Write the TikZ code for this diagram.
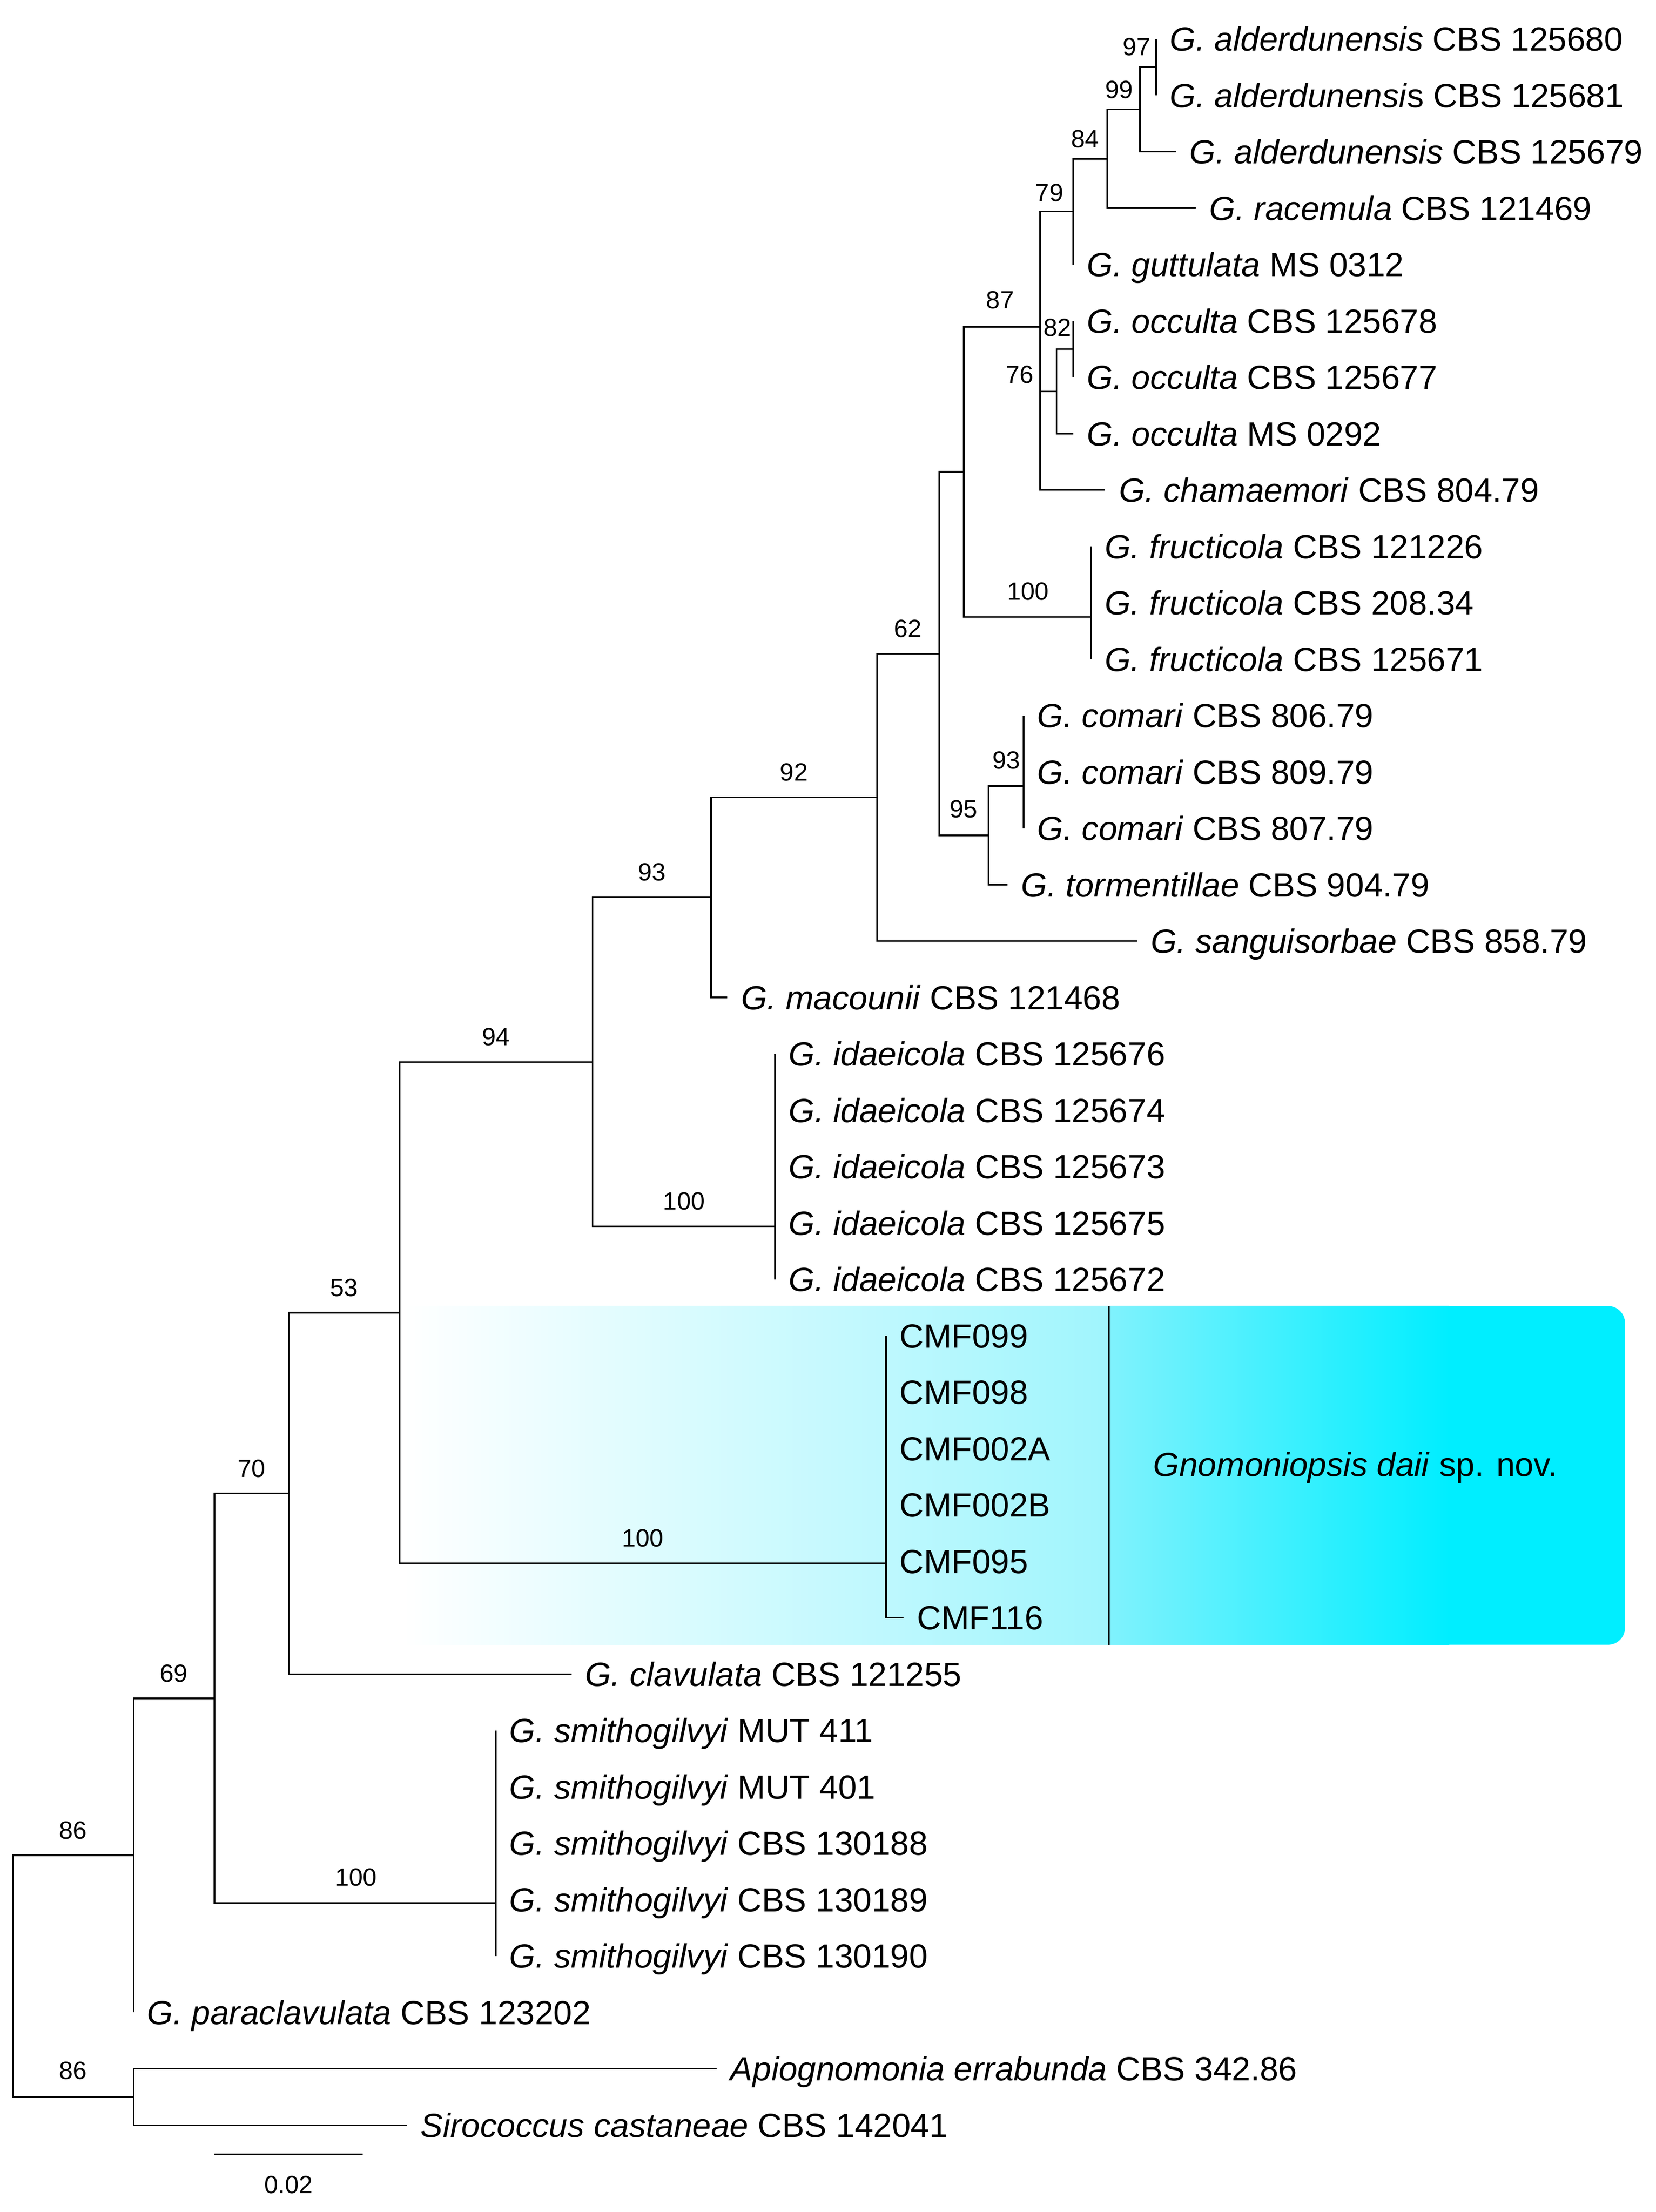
\documentclass[tikz,border=0pt]{standalone}
\usepackage{amsmath,amssymb}
\usepackage{fontspec}
\setmainfont{Liberation Sans}
\usepackage{tikz}
\usetikzlibrary{calc}
\definecolor{cyanclair}{HTML}{A0F5FD}
\definecolor{cyanmoyen}{HTML}{80F2FD}
\definecolor{cyanvif}{HTML}{00EEFF}

\begin{document}
\begin{tikzpicture}[x=0.5pt, y=-0.5pt,
    branche/.style={line width=0.55pt},
    taxon/.style={anchor=west, inner xsep=4.6pt, inner ysep=0pt, text height=8.5pt, text depth=0pt, font=\fontsize{11.85}{14}\selectfont},
    boot/.style={inner sep=0pt, text height=6.3pt, text depth=0pt, font=\fontsize{8.8}{10}\selectfont}]
    \useasboundingbox (0,0) rectangle (1170,1563);
    % Fond du clade G. daii
    \fill[cyanvif, rounded corners=6pt] (1000,922.8) rectangle (1148.2,1162.2);
    \shade[left color=white, right color=cyanclair] (285,922.8) rectangle (783.6,1162.2);
    \shade[left color=cyanmoyen, right color=cyanvif] (783.6,922.8) rectangle (1024,1162.2);
    \draw[branche] (783.6,922.8) -- (783.6,1162.2);
    \node[taxon, inner xsep=0pt] (daii) at (814.5,1034.5) {\textit{Gnomoniopsis daii} sp. nov.};
    % Feuilles
    \node[taxon] (t1) at (817,27.5) {\textit{G. alderdunensis} CBS 125680};
    \node[taxon] (t2) at (817,67.3) {\textit{G. alderdunensi}s CBS 125681};
    \node[taxon] (t3) at (831,107.2) {\textit{G. alderdunensis} CBS 125679};
    \node[taxon] (t4) at (845,147) {\textit{G. racemula} CBS 121469};
    \node[taxon] (t5) at (758.4,186.9) {\textit{G. guttulata} MS 0312};
    \node[taxon] (t6) at (758.4,226.7) {\textit{G. occulta} CBS 125678};
    \node[taxon] (t7) at (758.4,266.5) {\textit{G. occulta} CBS 125677};
    \node[taxon] (t8) at (758.4,306.4) {\textit{G. occulta} MS 0292};
    \node[taxon] (t9) at (781,346.2) {\textit{G. chamaemori} CBS 804.79};
    \node[taxon] (t10) at (771,386.1) {\textit{G. fructicola} CBS 121226};
    \node[taxon] (t11) at (771,425.9) {\textit{G. fructicola} CBS 208.34};
    \node[taxon] (t12) at (771,465.7) {\textit{G. fructicola} CBS 125671};
    \node[taxon] (t13) at (723.3,505.6) {\textit{G. comari} CBS 806.79};
    \node[taxon] (t14) at (723.3,545.4) {\textit{G. comari} CBS 809.79};
    \node[taxon] (t15) at (723.3,585.3) {\textit{G. comari} CBS 807.79};
    \node[taxon] (t16) at (712,625.1) {\textit{G. tormentillae} CBS 904.79};
    \node[taxon] (t17) at (803.5,664.9) {\textit{G. sanguisorbae} CBS 858.79};
    \node[taxon] (t18) at (514,704.8) {\textit{G. macounii} CBS 121468};
    \node[taxon] (t19) at (547.6,744.6) {\textit{G. idaeicola} CBS 125676};
    \node[taxon] (t20) at (547.6,784.5) {\textit{G. idaeicola} CBS 125674};
    \node[taxon] (t21) at (547.6,824.3) {\textit{G. idaeicola} CBS 125673};
    \node[taxon] (t22) at (547.6,864.1) {\textit{G. idaeicola} CBS 125675};
    \node[taxon] (t23) at (547.6,904) {\textit{G. idaeicola} CBS 125672};
    \node[taxon] (t24) at (626,943.8) {CMF099};
    \node[taxon] (t25) at (626,983.7) {CMF098};
    \node[taxon] (t26) at (626,1023.5) {CMF002A};
    \node[taxon] (t27) at (626,1063.3) {CMF002B};
    \node[taxon] (t28) at (626,1103.2) {CMF095};
    \node[taxon] (t29) at (638.4,1143) {CMF116};
    \node[taxon] (t30) at (403.8,1182.9) {\textit{G. clavulata} CBS 121255};
    \node[taxon] (t31) at (350.4,1222.7) {\textit{G. smithogilvyi} MUT 411};
    \node[taxon] (t32) at (350.4,1262.5) {\textit{G. smithogilvyi} MUT 401};
    \node[taxon] (t33) at (350.4,1302.4) {\textit{G. smithogilvyi} CBS 130188};
    \node[taxon] (t34) at (350.4,1342.2) {\textit{G. smithogilvyi} CBS 130189};
    \node[taxon] (t35) at (350.4,1382.1) {\textit{G. smithogilvyi} CBS 130190};
    \node[taxon] (t36) at (94.4,1421.9) {\textit{G. paraclavulata} CBS 123202};
    \node[taxon] (t37) at (506.5,1461.7) {\textit{Apiognomonia errabunda} CBS 342.86};
    \node[taxon] (t38) at (287.5,1501.6) {\textit{Sirococcus castaneae} CBS 142041};
    % Noeuds internes
    \coordinate (n97) at (817,47.4);
    \coordinate (n99) at (805.6,77.3);
    \coordinate (n84) at (782.3,112.2);
    \coordinate (n79) at (758.4,149.5);
    \coordinate (n82) at (758.4,246.6);
    \coordinate (n76) at (746.5,276.5);
    \coordinate (n87) at (735,230.9);
    \coordinate (nFru) at (771,435.9);
    \coordinate (nA) at (681,333.4);
    \coordinate (nCom) at (723.3,555.5);
    \coordinate (n95) at (698.3,590.3);
    \coordinate (n62) at (663.6,462);
    \coordinate (n92) at (619.6,563.5);
    \coordinate (n93) at (502.5,634.1);
    \coordinate (nIda) at (547.6,866.6);
    \coordinate (n94) at (418.8,750.4);
    \coordinate (nCMF) at (626,1104.5);
    \coordinate (n53) at (282.5,927.5);
    \coordinate (n70) at (204,1055.2);
    \coordinate (nSmi) at (350.4,1344.7);
    \coordinate (n69) at (151.5,1200);
    \coordinate (n86a) at (94.4,1310.9);
    \coordinate (n86b) at (94.4,1481.7);
    \coordinate (racine) at (9.1,1396.3);
    % Branches
    \draw[branche] (n97) |- (t1.west) (n97) |- (t2.west);
    \draw[branche] (n99) |- (n97) (n99) |- (t3.west);
    \draw[branche] (n84) |- (n99) (n84) |- (t4.west);
    \draw[branche] (n79) |- (n84) (n79) |- (t5.west);
    \draw[branche] (n82) |- (t6.west) (n82) |- (t7.west);
    \draw[branche] (n76) |- (n82) (n76) |- (t8.west);
    \draw[branche] (n87) |- (n79) (n87) |- (n76) (n87) |- (t9.west);
    \draw[branche] (nFru) |- (t10.west) (nFru) |- (t11.west) (nFru) |- (t12.west);
    \draw[branche] (nA) |- (n87) (nA) |- (nFru);
    \draw[branche] (nCom) |- (t13.west) (nCom) |- (t14.west) (nCom) |- (t15.west);
    \draw[branche] (n95) |- (nCom) (n95) |- (t16.west);
    \draw[branche] (n62) |- (nA) (n62) |- (n95);
    \draw[branche] (n92) |- (n62) (n92) |- (t17.west);
    \draw[branche] (n93) |- (n92) (n93) |- (t18.west);
    \draw[branche] (nIda) |- (t19.west) (nIda) |- (t23.west);
    \draw[branche] (n94) |- (n93) (n94) |- (nIda);
    \draw[branche] (nCMF) |- (t24.west) (nCMF) |- (t29.west);
    \draw[branche] (n53) |- (n94) (n53) |- (nCMF);
    \draw[branche] (n70) |- (n53) (n70) |- (t30.west);
    \draw[branche] (nSmi) |- (t31.west) (nSmi) |- (t35.west);
    \draw[branche] (n69) |- (n70) (n69) |- (nSmi);
    \draw[branche] (n86a) |- (n69) (n86a) |- (t36.west);
    \draw[branche] (n86b) |- (t37.west) (n86b) |- (t38.west);
    \draw[branche] (racine) |- (n86a) (racine) |- (n86b);
    % Valeurs de bootstrap
    \node[boot] (b97) at (803,33) {97};
    \node[boot] (b99) at (790.8,63) {99};
    \node[boot] (b84) at (766.6,98) {84};
    \node[boot] (b79) at (741.5,136) {79};
    \node[boot] (b87) at (706.7,211.8) {87};
    \node[boot] (b82) at (747.1,231.4) {82};
    \node[boot] (b76) at (720.5,264.5) {76};
    \node[boot] (bFru) at (726.3,417.6) {100};
    \node[boot] (b62) at (641.6,443.8) {62};
    \node[boot] (bCom) at (711,537) {93};
    \node[boot] (b95) at (681,571.5) {95};
    \node[boot] (b92) at (561,545.5) {92};
    \node[boot] (b93) at (460.7,616) {93};
    \node[boot] (b94) at (350.5,732.5) {94};
    \node[boot] (bIda) at (483.3,848.6) {100};
    \node[boot] (b53) at (243.2,909.8) {53};
    \node[boot] (bCMF) at (454.3,1086.5) {100};
    \node[boot] (b70) at (177.6,1037.4) {70};
    \node[boot] (b69) at (122.8,1182.2) {69};
    \node[boot] (bSmi) at (251.6,1326.3) {100};
    \node[boot] (b86a) at (51.5,1293) {86};
    \node[boot] (b86b) at (51.5,1463) {86};
    % Echelle
    \coordinate (e1) at (151.5,1522.2);
    \coordinate (e2) at (256.4,1522.2);
    \draw[branche] (e1) -- (e2);
    \node[boot] (echelle) at (204,1543.5) {0.02};
\end{tikzpicture}
\end{document}
